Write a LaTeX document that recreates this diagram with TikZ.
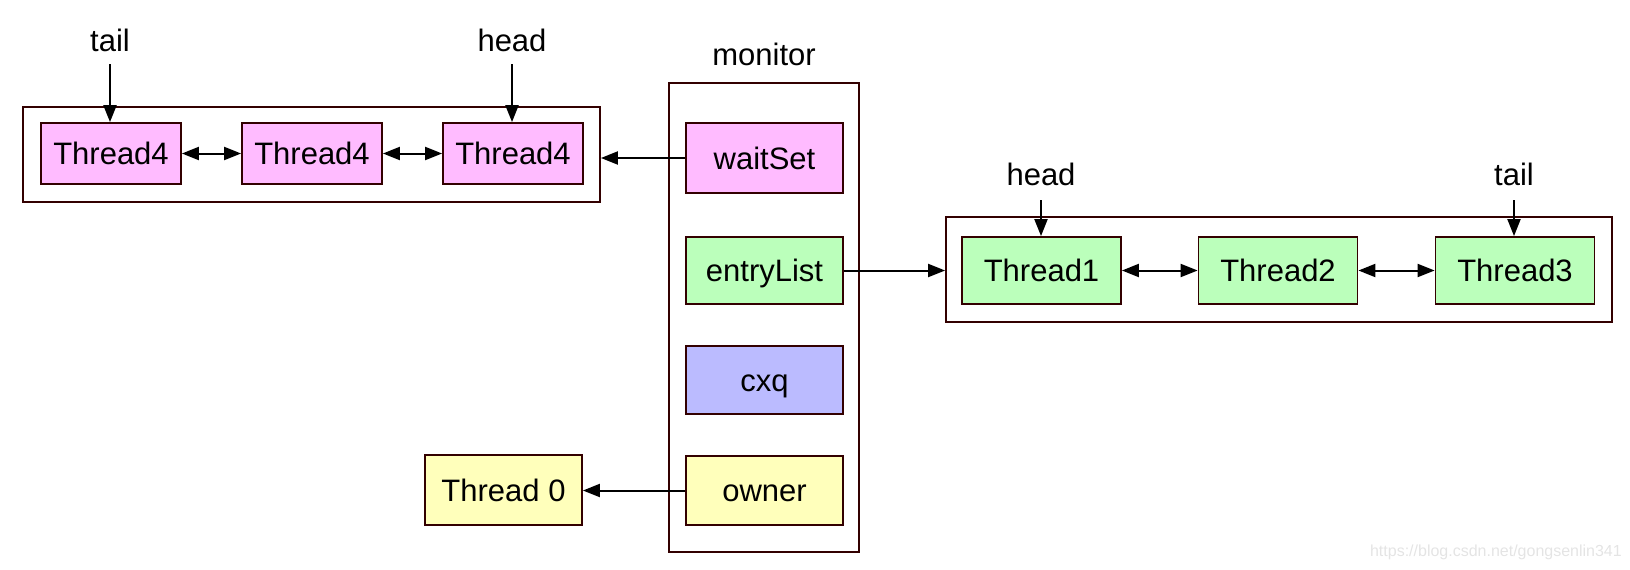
\documentclass[tikz,border=0pt]{standalone}
\usepackage{fontspec}
\setmainfont{Liberation Sans}
\usetikzlibrary{arrows.meta}
\definecolor{bord}{HTML}{330000}
\definecolor{pinkc}{HTML}{FFBBFF}
\definecolor{greenc}{HTML}{BBFFBB}
\definecolor{bluec}{HTML}{BBBBFF}
\definecolor{yellowc}{HTML}{FFFFBB}
\definecolor{wmark}{HTML}{E4E4E4}
\begin{document}
\begin{tikzpicture}[x=1pt,y=-1pt,
  every node/.style={font=\fontsize{31}{36}\selectfont},
  box/.style={draw=bord, line width=1.8pt, inner sep=0pt, text height=22pt, text depth=0pt},
  outer/.style={draw=bord, line width=1.8pt, inner sep=0pt},
  lbl/.style={inner sep=0pt},
  arr/.style={-{Triangle[length=17pt,width=13pt]}, line width=2pt},
  darr/.style={{Triangle[length=17pt,width=13pt]}-{Triangle[length=17pt,width=13pt]}, line width=2pt}]
\useasboundingbox (0,0) rectangle (1630,570);

% left list
\node[outer, minimum width=577pt, minimum height=95pt] (lo) at (311.5,154.5) {};
\node[box, fill=pinkc, minimum width=140pt, minimum height=61pt] (t4a) at (111,153.5) {Thread4};
\node[box, fill=pinkc, minimum width=140pt, minimum height=61pt] (t4b) at (312,153.5) {Thread4};
\node[box, fill=pinkc, minimum width=140pt, minimum height=61pt] (t4c) at (513,153.5) {Thread4};
\draw[darr] (t4a) -- (t4b);
\draw[darr] (t4b) -- (t4c);
\node[lbl] (ltail) at (110,40) {tail};
\node[lbl] (lhead) at (512,40) {head};
\coordinate (ltailc) at (110,64);
\coordinate (lheadc) at (512,64);
\draw[arr] (ltailc) -- (ltailc |- t4a.north);
\draw[arr] (lheadc) -- (lheadc |- t4c.north);

% monitor
\node[lbl] (mon) at (764,54) {monitor};
\node[outer, minimum width=190pt, minimum height=469pt] (mo) at (764,317.5) {};
\node[box, fill=pinkc, minimum width=157pt, minimum height=70pt] (ws) at (764.5,158) {waitSet};
\node[box, fill=greenc, minimum width=157pt, minimum height=67pt] (el) at (764.5,270.5) {entryList};
\node[box, fill=bluec, minimum width=157pt, minimum height=68pt] (cxq) at (764.5,380) {cxq};
\node[box, fill=yellowc, minimum width=157pt, minimum height=69pt] (ow) at (764.5,490.5) {owner};

% right list
\node[outer, minimum width=666pt, minimum height=105pt] (ro) at (1279,269.5) {};
\node[box, fill=greenc, minimum width=159pt, minimum height=67pt] (t1) at (1041.5,270.5) {Thread1};
\node[box, fill=greenc, minimum width=159pt, minimum height=67pt] (t2) at (1278,270.5) {Thread2};
\node[box, fill=greenc, minimum width=159pt, minimum height=67pt] (t3) at (1515,270.5) {Thread3};
\draw[darr] (t1) -- (t2);
\draw[darr] (t2) -- (t3);
\node[lbl] (rhead) at (1041,174) {head};
\node[lbl] (rtail) at (1514,174) {tail};
\coordinate (rheadc) at (1041,200);
\coordinate (rtailc) at (1514,200);
\draw[arr] (rheadc) -- (rheadc |- t1.north);
\draw[arr] (rtailc) -- (rtailc |- t3.north);

% owner thread
\node[box, fill=yellowc, minimum width=157pt, minimum height=70pt] (t0) at (503.5,490) {Thread 0};

% connectors
\draw[arr] (ws.west) -- (ws.west -| lo.east);
\draw[arr] (el.east) -- (el.east -| ro.west);
\draw[arr] (ow.west) -- (ow.west -| t0.east);

% watermark
\node[lbl, anchor=east, text=wmark, font=\fontsize{16}{18}\selectfont] (wm) at (1622,552) {https://blog.csdn.net/gongsenlin341};
\end{tikzpicture}
\end{document}
